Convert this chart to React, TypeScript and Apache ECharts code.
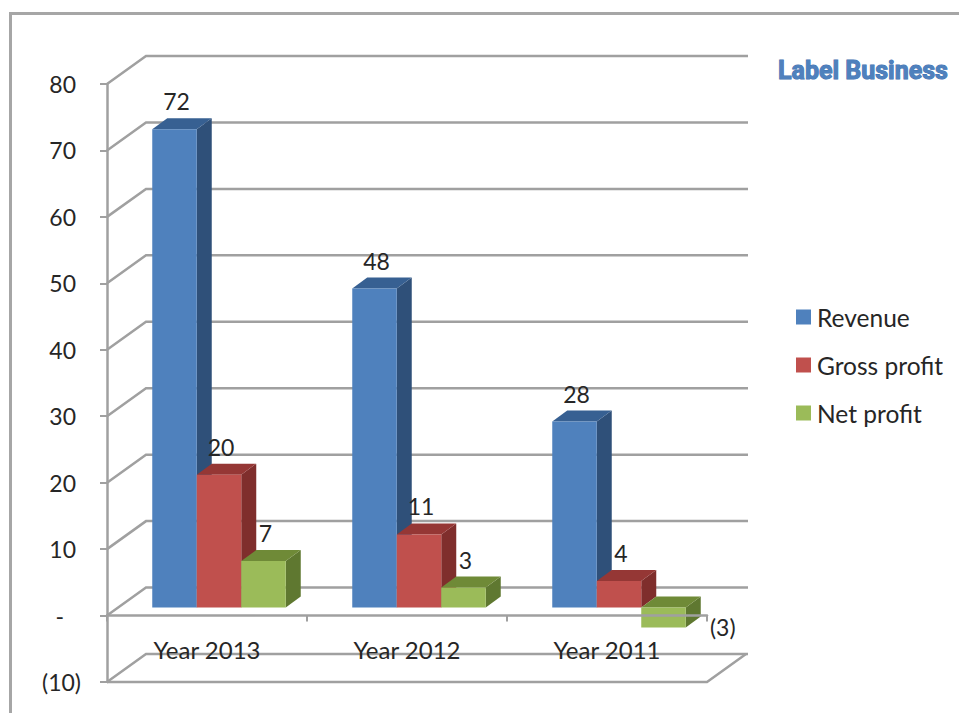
import React, { useEffect, useRef } from "react";
import * as echarts from "echarts";

// Company results by year, in millions
const categories = ["Year 2013", "Year 2012", "Year 2011"];
const revenue = [72, 48, 28];
const grossProfit = [20, 11, 4];
const netProfit = [7, 3, -3];
const wallTicks = [-10, 0, 10, 20, 30, 40, 50, 60, 70, 80];

const seriesNames = ["Revenue", "Gross profit", "Net profit"];
const faceColors = ["#4F81BD", "#C0504D", "#9BBB59"];
const topColors = ["#376092", "#953735", "#6F8A37"];
const sideColors = ["#2F5079", "#7F2E2C", "#5F7830"];

const FONT = "Lato, Carlito, sans-serif";
const LINE = "#a0a0a0";

// Oblique projection used for the fake 3D look
const WALL_DX = 39;
const WALL_DY = -28;
const BAR_SHIFT_X = 12;
const BAR_SHIFT_Y = -8;
const BAR_W = 44.5;
const DEPTH_X = 15;
const DEPTH_Y = -11;

const formatValue = (v: number) => (v < 0 ? `(${-v})` : `${v}`);

function axisLabel(v: number) {
  if (v === 0) return "{dash|-}";
  if (v < 0) return `{neg|(${-v})}`;
  return `{pos|${v}}`;
}

function renderWall(params: any, api: any) {
  const v = api.value(1);
  const c = params.coordSys;
  const y = api.coord([0, v])[1];
  const left = c.x;
  const right = c.x + c.width;
  const style = { stroke: LINE, lineWidth: 2.5, fill: "none" };
  const children: any[] = [
    {
      type: "polyline",
      shape: {
        points: [
          [left, y],
          [left + WALL_DX, y + WALL_DY],
          [right + WALL_DX + 2, y + WALL_DY],
        ],
      },
      style,
    },
  ];
  if (v === wallTicks[0]) {
    // floor outline below the negative range
    children.push({
      type: "polyline",
      shape: {
        points: [
          [left, y],
          [right, y],
          [right + WALL_DX, y + WALL_DY],
        ],
      },
      style,
    });
  }
  return { type: "group", children };
}

function makeBarRenderer(seriesIndex: number) {
  return (_params: any, api: any) => {
    const cat = api.value(0);
    const v = api.value(1);
    const center = api.coord([cat, 0])[0];
    const base = api.coord([cat, 0])[1] + BAR_SHIFT_Y;
    const tip = api.coord([cat, v])[1] + BAR_SHIFT_Y;
    const x0 = center + BAR_SHIFT_X + (seriesIndex - 1.5) * BAR_W;
    const x1 = x0 + BAR_W;
    const top = Math.min(base, tip);
    const bottom = Math.max(base, tip);
    const labelPos =
      v < 0
        ? { x: x1 + DEPTH_X + 22, y: bottom }
        : { x: (x0 + x1) / 2 + 2, y: top - 28 };
    return {
      type: "group",
      children: [
        {
          type: "polygon",
          shape: {
            points: [
              [x1, top],
              [x1 + DEPTH_X, top + DEPTH_Y],
              [x1 + DEPTH_X, bottom + DEPTH_Y],
              [x1, bottom],
            ],
          },
          style: { fill: sideColors[seriesIndex] },
        },
        {
          type: "polygon",
          shape: {
            points: [
              [x0, top],
              [x0 + DEPTH_X, top + DEPTH_Y],
              [x1 + DEPTH_X, top + DEPTH_Y],
              [x1, top],
            ],
          },
          style: { fill: topColors[seriesIndex] },
        },
        {
          type: "rect",
          shape: { x: x0, y: top, width: BAR_W, height: bottom - top },
          style: { fill: faceColors[seriesIndex] },
        },
        {
          type: "text",
          x: labelPos.x,
          y: labelPos.y,
          style: {
            text: formatValue(v),
            fill: "#262626",
            font: `23px ${FONT}`,
            align: "center",
            verticalAlign: "middle",
          },
        },
      ],
    };
  };
}

function barSeries(values: number[], index: number) {
  return {
    type: "custom",
    name: seriesNames[index],
    coordinateSystem: "cartesian2d",
    clip: false,
    z: 3,
    itemStyle: { color: faceColors[index] },
    encode: { x: 0, y: 1 },
    data: values.map((v, i) => [i, v]),
    renderItem: makeBarRenderer(index),
  };
}

export default function App() {
  const ref = useRef<HTMLDivElement>(null);

  useEffect(() => {
    if (!ref.current) return;
    const chart = echarts.init(ref.current, undefined, { renderer: "svg" });
    chart.setOption({
      animation: false,
      backgroundColor: "#ffffff",
      title: {
        text: "Label Business",
        left: 778,
        top: 58,
        padding: 0,
        textStyle: {
          fontFamily: "Roboto, sans-serif",
          fontWeight: "bold",
          fontSize: 25,
          color: "#4F81BD",
          textBorderColor: "#3F6FAF",
          textBorderWidth: 1,
        },
      },
      legend: {
        orient: "vertical",
        left: 796,
        top: 304,
        padding: 0,
        itemWidth: 15,
        itemHeight: 15,
        itemGap: 22,
        icon: "rect",
        data: seriesNames,
        selectedMode: false,
        textStyle: {
          fontFamily: FONT,
          fontSize: 24.5,
          color: "#262626",
          padding: [0, 0, 0, 1],
          height: 26,
          lineHeight: 26,
        },
      },
      grid: { left: 107, top: 84, width: 600, height: 598, outerBoundsMode: "none" },
      xAxis: {
        type: "category",
        data: categories,
        z: 6,
        axisLine: { onZero: true, lineStyle: { color: LINE, width: 2.5 } },
        axisTick: { show: true, alignWithLabel: false, length: 6, lineStyle: { color: LINE, width: 2 } },
        axisLabel: { margin: -45, fontFamily: FONT, fontSize: 24, color: "#262626" },
        splitLine: { show: false },
      },
      yAxis: {
        type: "value",
        min: -10,
        max: 80,
        interval: 10,
        axisLine: { show: true, onZero: false, lineStyle: { color: LINE, width: 2.5 } },
        axisTick: { show: true, length: 7, lineStyle: { color: LINE, width: 2 } },
        splitLine: { show: false },
        axisLabel: {
          margin: 26,
          formatter: axisLabel,
          rich: {
            pos: { fontFamily: FONT, fontSize: 23, color: "#262626", padding: [0, 5, 0, 0] },
            neg: { fontFamily: FONT, fontSize: 23, color: "#262626" },
            dash: { fontFamily: FONT, fontSize: 23, color: "#262626", padding: [0, 17, 0, 0] },
          },
        },
      },
      graphic: [
        {
          type: "polyline",
          silent: true,
          shape: {
            points: [
              [10.5, 713],
              [10.5, 13.5],
              [959, 13.5],
            ],
          },
          style: { stroke: "#a6a6a6", lineWidth: 3, fill: "none" },
        },
      ],
      series: [
        {
          type: "custom",
          name: "walls",
          coordinateSystem: "cartesian2d",
          clip: false,
          silent: true,
          z: 1,
          encode: { x: 0, y: 1 },
          data: wallTicks.map((t) => [0, t]),
          renderItem: renderWall,
        },
        barSeries(revenue, 0),
        barSeries(grossProfit, 1),
        barSeries(netProfit, 2),
      ],
    });
    return () => chart.dispose();
  }, []);

  return (
    <div
      ref={ref}
      style={{ position: "absolute", left: 0, top: 0, width: 959, height: 713 }}
    />
  );
}
